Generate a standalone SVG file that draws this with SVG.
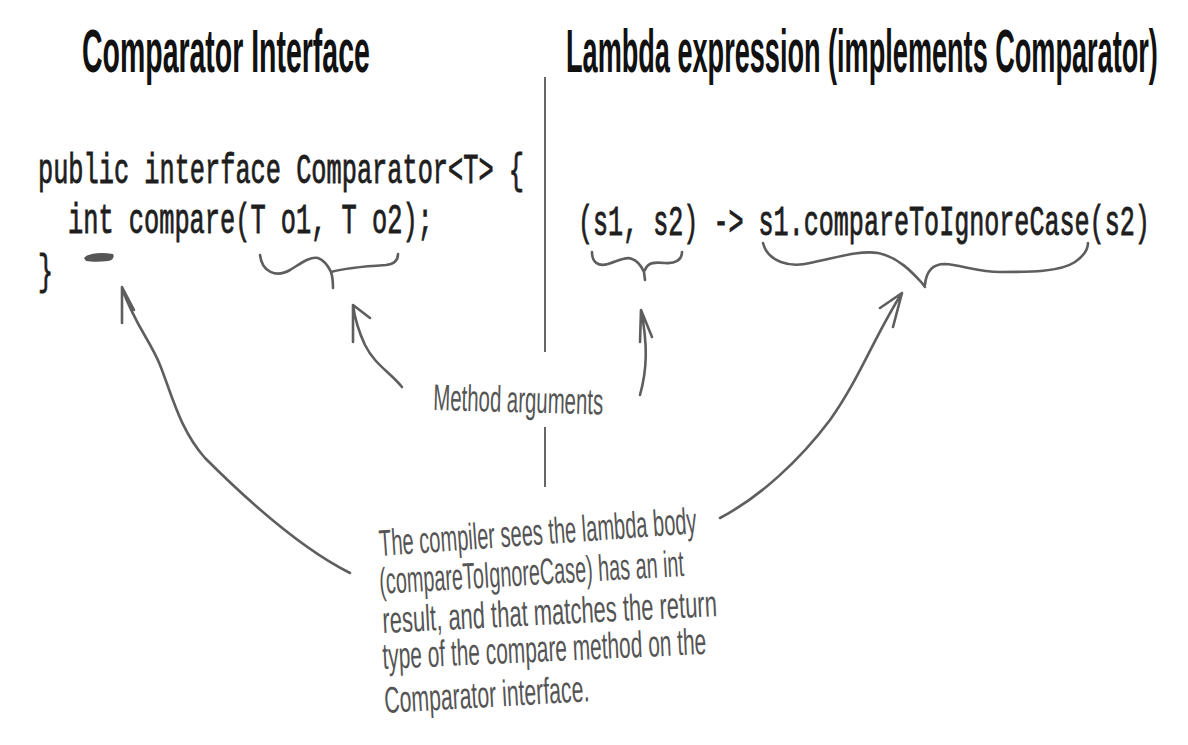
<svg xmlns="http://www.w3.org/2000/svg" width="1188" height="745" viewBox="0 0 1188 745">
<style>
.title{font-family:"Liberation Sans",Arial,sans-serif;font-weight:bold;font-size:62px;fill:#111}
.code{font-family:"Liberation Mono","Courier New",monospace;font-size:42px;fill:#1e1e1e;stroke:#1e1e1e;stroke-width:0.9}
.hand{font-family:"Liberation Sans",Arial,sans-serif;font-size:37px;fill:#555}
.ln{fill:none;stroke:#5e5e5e;stroke-width:2.6;stroke-linecap:round;stroke-linejoin:round}
.div{fill:none;stroke:#666;stroke-width:2}
</style>
<rect width="1188" height="745" fill="#fff"/>
<g id="titles">
<text class="title" transform="translate(82,72) scale(0.465,1)" textLength="619" lengthAdjust="spacingAndGlyphs">Comparator Interface</text>
<text class="title" transform="translate(566,72) scale(0.445,1)" textLength="1330" lengthAdjust="spacingAndGlyphs">Lambda expression (implements Comparator)</text>
</g>
<g id="divider">
<path class="div" d="M545,77 V352 M545,427 V487"/>
</g>
<g id="interface-code">
<text class="code" transform="translate(38,183) scale(0.6,1)" textLength="810" lengthAdjust="spacingAndGlyphs">public interface Comparator&lt;T&gt; {</text>
<text class="code" transform="translate(68,233) scale(0.6,1)" textLength="608" lengthAdjust="spacingAndGlyphs">int compare(T o1, T o2);</text>
<text class="code" transform="translate(38,284) scale(0.6,1)" textLength="25" lengthAdjust="spacingAndGlyphs">}</text>
<path d="M84,258 C88,253 101,252 113,254 C115,257 112,261 108,261 C100,262 92,262 86,261 Z" fill="#555"/>
</g>
<g id="lambda-code">
<text class="code" transform="translate(578,235) scale(0.6,1)" textLength="953" lengthAdjust="spacingAndGlyphs">(s1, s2) -&gt; s1.compareToIgnoreCase(s2)</text>
</g>
<g id="method-arguments">
<text class="hand" transform="translate(433,410) rotate(1.5) scale(0.55,1)" textLength="309" lengthAdjust="spacingAndGlyphs">Method arguments</text>
</g>
<g id="explanation">
<text class="hand" transform="translate(380,556) rotate(-4.1) scale(0.54,1)" textLength="589" lengthAdjust="spacingAndGlyphs">The compiler sees the lambda body</text>
<text class="hand" transform="translate(380,594) rotate(-3.4) scale(0.54,1)" textLength="565" lengthAdjust="spacingAndGlyphs">(compareToIgnoreCase) has an int</text>
<text class="hand" transform="translate(383,633) rotate(-2.9) scale(0.54,1)" textLength="620" lengthAdjust="spacingAndGlyphs">result, and that matches the return</text>
<text class="hand" transform="translate(383,669) rotate(-2.65) scale(0.54,1)" textLength="600" lengthAdjust="spacingAndGlyphs">type of the compare method on the</text>
<text class="hand" transform="translate(385,713) rotate(-3.3) scale(0.54,1)" textLength="380" lengthAdjust="spacingAndGlyphs">Comparator interface.</text>
</g>
<g id="connectors">
<path class="ln" d="M260,255 C262,272 276,278 290,270 C300,264 310,256 318,258 C326,261 329,268 331,272 C333,278 333,283 333,288 M331,272 C345,268 370,266 386,265 C395,264 398,259 398,254"/>
<path class="ln" d="M592,252 C592,262 598,267 608,264 C618,261 626,256 632,259 C640,262 642,268 644,272 L645,280 M645,270 C648,262 655,262 665,263 C675,264 682,260 682,252"/>
<path class="ln" d="M763,243 C768,262 790,268 810,263 C835,258 860,250 878,253 C898,257 912,272 922,283 L925,287 M925,285 C926,272 932,264 945,264 C960,265 980,272 1000,272 C1030,272 1060,272 1075,262 C1085,255 1088,248 1088,243"/>
<path class="ln" d="M350,573 C300,548 245,498 205,458 C180,430 172,395 160,365 C150,340 135,325 122,288 M122,323 L122,287 L134,310"/>
<path class="ln" d="M402,387 C390,372 375,365 365,345 C358,330 355,320 353,305 M353,342 L353,305 L370,318"/>
<path class="ln" d="M640,395 C647,370 648,345 641,310 M640,342 L641,310 L652,337"/>
<path class="ln" d="M720,518 C760,497 800,460 830,420 C860,378 875,335 902,293 M880,308 L902,293 L893,327"/>
</g>
</svg>
